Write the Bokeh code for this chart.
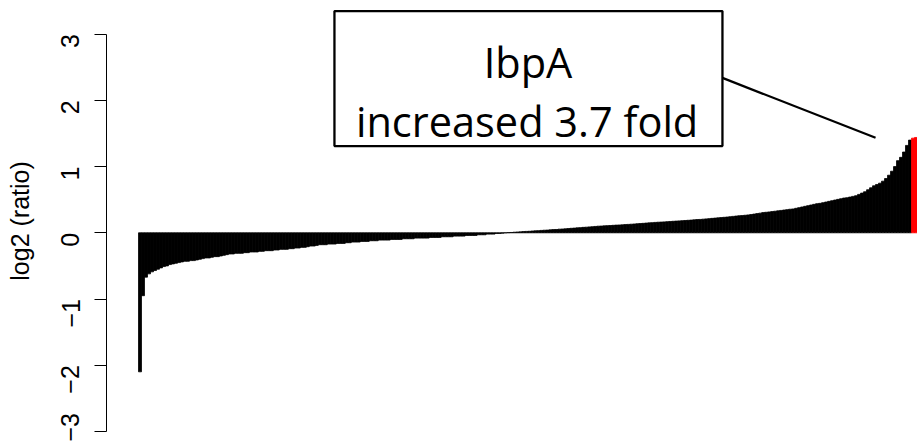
import numpy as np
from bokeh.plotting import figure
from bokeh.models import Range1d, FixedTicker, BoxAnnotation, Label, ColumnDataSource
from bokeh.embed import file_html
from bokeh.resources import INLINE

# ---- data: sorted log2 ratios ----
seg_neg_steep = [-2.10, -0.95, -0.67, -0.62, -0.59, -0.57, -0.55, -0.53, -0.51, -0.50,
                 -0.48, -0.47, -0.46, -0.45, -0.44, -0.43, -0.43, -0.42, -0.42, -0.41, -0.40]
seg_neg_mid = [-0.39, -0.38, -0.38, -0.37, -0.36, -0.36, -0.35, -0.34, -0.33, -0.32,
               -0.32, -0.31, -0.31, -0.31, -0.30, -0.30, -0.29, -0.29, -0.29, -0.28,
               -0.28, -0.27, -0.27, -0.27, -0.26, -0.26, -0.25, -0.25, -0.25, -0.24,
               -0.24, -0.23, -0.23, -0.22, -0.22, -0.21, -0.20, -0.20, -0.19, -0.18]
seg_neg_flat = [-0.18, -0.18, -0.17, -0.17, -0.17, -0.16, -0.16, -0.16, -0.15, -0.15,
                -0.14, -0.14, -0.14, -0.13, -0.13, -0.13, -0.12,
                -0.12, -0.12, -0.11, -0.11, -0.11, -0.11, -0.10, -0.10, -0.10, -0.10,
                -0.09, -0.09, -0.09, -0.09, -0.08, -0.08,
                -0.08, -0.08, -0.08, -0.07, -0.07, -0.07, -0.07, -0.06, -0.06, -0.06,
                -0.06, -0.05, -0.05, -0.05, -0.05, -0.04, -0.04,
                -0.04, -0.04, -0.03, -0.03, -0.03, -0.02, -0.02, -0.02, -0.01, -0.01,
                -0.005, 0.0]
seg_pos_flat = [0.003, 0.005, 0.009, 0.012, 0.014, 0.018, 0.021, 0.023, 0.027, 0.030,
                0.032, 0.036, 0.039, 0.041, 0.045, 0.048, 0.050, 0.055,
                0.057, 0.060, 0.064, 0.068, 0.071, 0.075, 0.078, 0.082, 0.085, 0.089,
                0.092, 0.096, 0.100,
                0.102, 0.105, 0.108, 0.110, 0.113, 0.116, 0.118,
                0.120, 0.124, 0.127, 0.130, 0.133, 0.137, 0.140, 0.143, 0.147, 0.150,
                0.153, 0.157, 0.160,
                0.162, 0.165, 0.168, 0.171, 0.174, 0.177, 0.180, 0.183, 0.186, 0.189,
                0.192, 0.196, 0.200]
seg_pos_mid = [0.202, 0.206, 0.210, 0.214, 0.218, 0.222, 0.226, 0.230, 0.234, 0.238,
               0.243, 0.248, 0.253, 0.258,
               0.260, 0.265, 0.270, 0.276, 0.283, 0.290, 0.297, 0.305,
               0.310, 0.315, 0.320, 0.326, 0.332, 0.338, 0.344, 0.350, 0.356,
               0.360, 0.370, 0.380, 0.390, 0.400, 0.410, 0.420, 0.430, 0.440,
               0.445, 0.455, 0.465, 0.475, 0.485, 0.495, 0.505, 0.515, 0.525]
seg_pos_steep = [0.53, 0.54, 0.55, 0.56, 0.58, 0.60, 0.62, 0.65, 0.68, 0.71,
                 0.73, 0.75, 0.78, 0.82, 0.87, 0.93, 1.00, 1.09, 1.14, 1.22,
                 1.32, 1.40]
seg_highlight = [1.43, 1.44]   # IbpA

values = seg_neg_steep + seg_neg_mid + seg_neg_flat + seg_pos_flat + seg_pos_mid + seg_pos_steep + seg_highlight
colors = ["black"] * (len(values) - len(seg_highlight)) + ["red"] * len(seg_highlight)
y_ticks = [-3, -2, -1, 0, 1, 2, 3]
y_tick_labels = {-3: "\u22123", -2: "\u22122", -1: "\u22121", 0: "0", 1: "1", 2: "2", 3: "3"}

N = len(values)

# ---- layout ----
W, H = 917, 441
frame_left = 106
lead_px = 32
ppu = (W - frame_left - lead_px) / N
x0 = -lead_px / ppu
y_px_per_unit = 66.2
y_zero_px = 232.3
y_top = y_zero_px / y_px_per_unit
y_bot = (y_zero_px - H) / y_px_per_unit

p = figure(width=W, height=H, output_backend="svg", toolbar_location=None,
           x_range=Range1d(x0, N), y_range=Range1d(y_bot, y_top),
           x_axis_location=None, min_border_left=frame_left, min_border_right=0,
           min_border_top=0, min_border_bottom=0)
p.outline_line_color = None
p.xgrid.visible = False
p.ygrid.visible = False
p.background_fill_color = "white"
p.border_fill_color = "white"

src = ColumnDataSource(dict(x=np.arange(N) + 0.5, top=values, color=colors))
p.vbar(x="x", top="top", bottom=0, width=1.0, source=src,
       fill_color="color", line_color="color", line_width=0.8)

ax = p.yaxis[0]
ax.bounds = (-3, 3)
ax.ticker = FixedTicker(ticks=y_ticks)
ax.major_label_overrides = y_tick_labels
ax.minor_tick_line_color = None
ax.major_tick_out = 12
ax.major_tick_in = 0
ax.major_label_orientation = np.pi / 2
ax.major_label_text_font = "Liberation Sans"
ax.major_label_text_font_size = "25px"
ax.major_label_text_color = "black"
ax.major_label_standoff = 24
ax.axis_line_color = "black"
ax.major_tick_line_color = "black"
ax.axis_label = "log2 (ratio)"
ax.axis_label_text_font = "Liberation Sans"
ax.axis_label_text_font_size = "25px"
ax.axis_label_text_font_style = "normal"
ax.axis_label_text_color = "black"
ax.axis_label_standoff = 16

# ---- annotation: callout box ----
box = BoxAnnotation(left=65.4, right=194.9, top=3.35, bottom=1.31,
                    fill_color="white", fill_alpha=1.0,
                    line_color="black", line_alpha=1.0, line_width=2.3)
p.add_layout(box)
p.line(x=[194.9, 246.0], y=[2.34, 1.435], line_color="black", line_width=2.3)
p.add_layout(Label(x=130.0, y=2.577, text="IbpA", text_align="center", text_baseline="alphabetic",
                   text_font="Open Sans", text_font_size="41.5px", text_color="black"))
p.add_layout(Label(x=129.7, y=1.696, text="increased 3.7 fold", text_align="center",
                   text_baseline="alphabetic", text_font="Open Sans", text_font_size="41.5px",
                   text_color="black"))

open("out.html", "w").write(file_html(p, INLINE))
